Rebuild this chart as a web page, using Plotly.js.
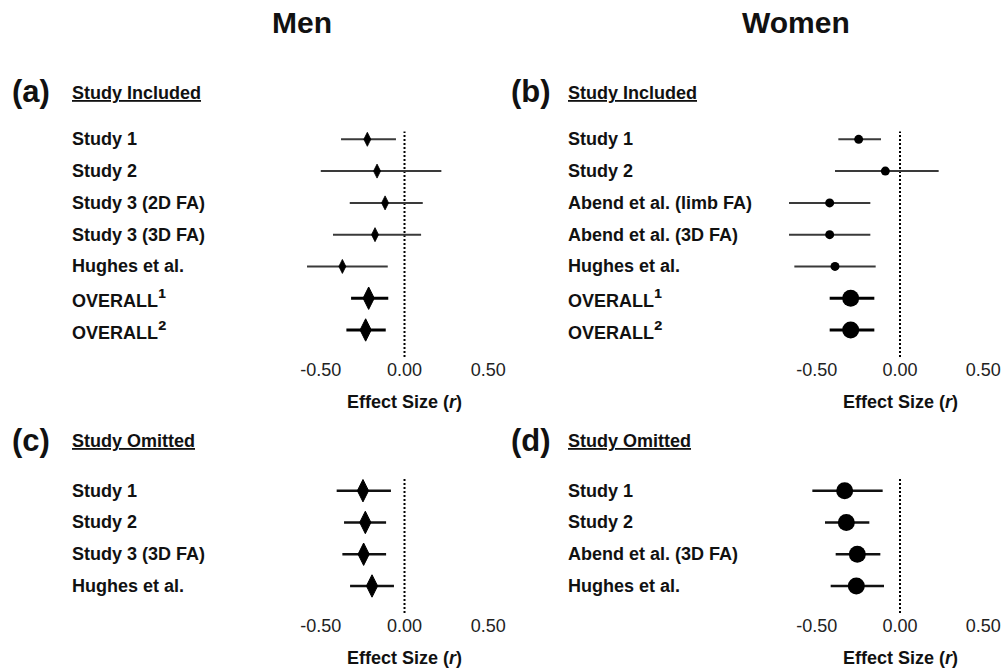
<!DOCTYPE html>
<html>
<head>
<meta charset="utf-8">
<script src="https://cdn.plot.ly/plotly-3.0.1.min.js"></script>
<style>
  html, body { margin: 0; padding: 0; background: #fff; }
  #chart { width: 1003px; height: 670px; }
</style>
</head>
<body>
<div id="chart"></div>
<script>
// ---------- DATA ----------
// Panel (a): Men, study included
const menIncLabels = ["Study 1", "Study 2", "Study 3 (2D FA)", "Study 3 (3D FA)", "Hughes et al.", "OVERALL¹", "OVERALL²"];
const menIncR      = [-0.222, -0.164, -0.116, -0.176, -0.371, -0.214, -0.232];
const menIncLow    = [-0.379, -0.500, -0.327, -0.427, -0.582, -0.319, -0.347];
const menIncHigh   = [-0.051,  0.220,  0.109,  0.099, -0.100, -0.097, -0.112];

// Panel (b): Women, study included
const womenIncLabels = ["Study 1", "Study 2", "Abend et al. (limb FA)", "Abend et al. (3D FA)", "Hughes et al.", "OVERALL¹", "OVERALL²"];
const womenIncR      = [-0.248, -0.088, -0.422, -0.422, -0.390, -0.296, -0.296];
const womenIncLow    = [-0.370, -0.390, -0.666, -0.666, -0.634, -0.422, -0.422];
const womenIncHigh   = [-0.114,  0.232, -0.178, -0.178, -0.146, -0.154, -0.154];

// Panel (c): Men, study omitted
const menOmLabels = ["Study 1", "Study 2", "Study 3 (3D FA)", "Hughes et al."];
const menOmR      = [-0.248, -0.234, -0.244, -0.194];
const menOmLow    = [-0.405, -0.361, -0.371, -0.325];
const menOmHigh   = [-0.081, -0.110, -0.110, -0.063];

// Panel (d): Women, study omitted
const womenOmLabels = ["Study 1", "Study 2", "Abend et al. (3D FA)", "Hughes et al."];
const womenOmR      = [-0.332, -0.322, -0.256, -0.262];
const womenOmLow    = [-0.526, -0.450, -0.386, -0.416];
const womenOmHigh   = [-0.104, -0.184, -0.118, -0.096];

const tickVals = [-0.5, 0, 0.5];
const tickText = ["-0.50", "0.00", "0.50"];
const columnTitles = ["Men", "Women"];
const panelTags = ["(a)", "(b)", "(c)", "(d)"];
const panelHeads = ["Study Included", "Study Included", "Study Omitted", "Study Omitted"];
const axisTitle = "Effect Size (<i>r</i>)";

// ---------- BUILD ----------
const FONT = "Liberation Sans, Arial, Helvetica, sans-serif";
const nOverall = 2;

function idx(n) { return Array.from({length: n}, (_, i) => i); }

// enlarge unicode superscript digits so they read like the reference
function fmtLabel(s) {
  return s.replace(/([¹²])/g, '<span style="font-size:25px">$1</span>');
}

function errTrace(xa, ya, xs, ys, lo, hi, symbol, size, lw, thick, color) {
  return {
    type: "scatter", mode: "markers", xaxis: xa, yaxis: ya,
    x: xs, y: ys, cliponaxis: false, hoverinfo: "skip",
    marker: { symbol: symbol, size: size, color: "#000", line: { color: "#000", width: lw } },
    error_x: {
      type: "data", symmetric: false,
      array: hi.map((h, i) => h - xs[i]),
      arrayminus: lo.map((l, i) => xs[i] - l),
      width: 0, thickness: thick, color: color
    },
    showlegend: false
  };
}

const traces = [];
// (a)
{
  const n = menIncR.length, ys = idx(n), k = n - nOverall;
  traces.push(errTrace("x", "y", menIncR.slice(0, k), ys.slice(0, k), menIncLow.slice(0, k), menIncHigh.slice(0, k), "diamond-tall", 10, 0.8, 2, "#3a3a3a"));
  traces.push(errTrace("x", "y", menIncR.slice(k), ys.slice(k), menIncLow.slice(k), menIncHigh.slice(k), "diamond-tall", 16, 1, 3, "#000"));
}
// (b)
{
  const n = womenIncR.length, ys = idx(n), k = n - nOverall;
  traces.push(errTrace("x2", "y2", womenIncR.slice(0, k), ys.slice(0, k), womenIncLow.slice(0, k), womenIncHigh.slice(0, k), "circle", 9, 0, 2, "#3a3a3a"));
  traces.push(errTrace("x2", "y2", womenIncR.slice(k), ys.slice(k), womenIncLow.slice(k), womenIncHigh.slice(k), "circle", 17, 0, 3, "#000"));
}
// (c)
traces.push(errTrace("x3", "y3", menOmR, idx(menOmR.length), menOmLow, menOmHigh, "diamond-tall", 16, 1, 2.5, "#111"));
// (d)
traces.push(errTrace("x4", "y4", womenOmR, idx(womenOmR.length), womenOmLow, womenOmHigh, "circle", 17, 0, 2.5, "#111"));

const leftDom = [0.2864, 0.5035], rightDom = [0.781, 0.997];
const topDom = [0.4672, 0.8039], botDom = [0.0851, 0.2866];

function xax(dom, anchor) {
  return {
    domain: dom, anchor: anchor, range: [-0.7, 0.6],
    showgrid: false, zeroline: false, showline: false, ticks: "",
    tickvals: tickVals, ticktext: tickText,
    tickfont: { family: FONT, size: 18, color: "#222" }, fixedrange: true
  };
}
function yax(dom, anchor, range) {
  return {
    domain: dom, anchor: anchor, range: range,
    showgrid: false, zeroline: false, showline: false, showticklabels: false, ticks: "", fixedrange: true
  };
}

const annotations = [];
const shapes = [];

// Column titles
[[0.301, columnTitles[0]], [0.794, columnTitles[1]]].forEach(([x, t]) => {
  annotations.push({ xref: "paper", yref: "paper", x: x, y: 1 - 23 / 670, xanchor: "center", yanchor: "middle",
    text: "<b>" + t + "</b>", showarrow: false, font: { family: FONT, size: 30, color: "#111" } });
});

const panels = [
  { tag: panelTags[0], head: panelHeads[0], labels: menIncLabels, xa: "x", ya: "y", tagX: 10, labX: 70, headY: 92 },
  { tag: panelTags[1], head: panelHeads[1], labels: womenIncLabels, xa: "x2", ya: "y2", tagX: 509, labX: 566, headY: 92 },
  { tag: panelTags[2], head: panelHeads[2], labels: menOmLabels, xa: "x3", ya: "y3", tagX: 10, labX: 70, headY: 440 },
  { tag: panelTags[3], head: panelHeads[3], labels: womenOmLabels, xa: "x4", ya: "y4", tagX: 509, labX: 566, headY: 440 }
];

panels.forEach(p => {
  annotations.push({ xref: "paper", yref: "paper", x: p.tagX / 1003, y: 1 - p.headY / 670, xanchor: "left", yanchor: "middle",
    text: "<b>" + p.tag + "</b>", showarrow: false, font: { family: FONT, size: 31, color: "#111" } });
  annotations.push({ xref: "paper", yref: "paper", x: p.labX / 1003, y: 1 - (p.headY + 1) / 670, xanchor: "left", yanchor: "middle",
    text: "<b><u>" + p.head + "</u></b>", showarrow: false, font: { family: FONT, size: 18, color: "#111" } });
  p.labels.forEach((lab, i) => {
    annotations.push({ xref: "paper", yref: p.ya, x: p.labX / 1003, y: i, xanchor: "left", yanchor: "middle",
      text: "<b>" + fmtLabel(lab) + "</b>", showarrow: false, font: { family: FONT, size: 18, color: "#111" } });
  });
  // axis title centered on zero
  const isTop = (p.ya === "y" || p.ya === "y2");
  annotations.push({ xref: p.xa, yref: "paper", x: 0, y: isTop ? 1 - 402 / 670 : 1 - 658 / 670, xanchor: "center", yanchor: "middle",
    text: "<b>" + axisTitle + "</b>", showarrow: false, font: { family: FONT, size: 18, color: "#111" } });
  // zero reference line
  shapes.push({ type: "line", xref: p.xa, yref: p.ya + " domain", x0: 0, x1: 0, y0: 0, y1: 1,
    line: { color: "#000", width: 2, dash: "2px,2px" }, layer: "below" });
});

const layout = {
  width: 1003, height: 670,
  margin: { l: 0, r: 0, t: 0, b: 0 },
  paper_bgcolor: "#fff", plot_bgcolor: "#fff",
  showlegend: false,
  xaxis: xax(leftDom, "y"),
  yaxis: yax(topDom, "x", [6.85, -0.25]),
  xaxis2: xax(rightDom, "y2"),
  yaxis2: yax(topDom, "x2", [6.85, -0.25]),
  xaxis3: xax(leftDom, "y3"),
  yaxis3: yax(botDom, "x3", [3.85, -0.4]),
  xaxis4: xax(rightDom, "y4"),
  yaxis4: yax(botDom, "x4", [3.85, -0.4]),
  annotations: annotations,
  shapes: shapes
};

Plotly.newPlot("chart", traces, layout, { displayModeBar: false, staticPlot: true });
</script>
</body>
</html>
